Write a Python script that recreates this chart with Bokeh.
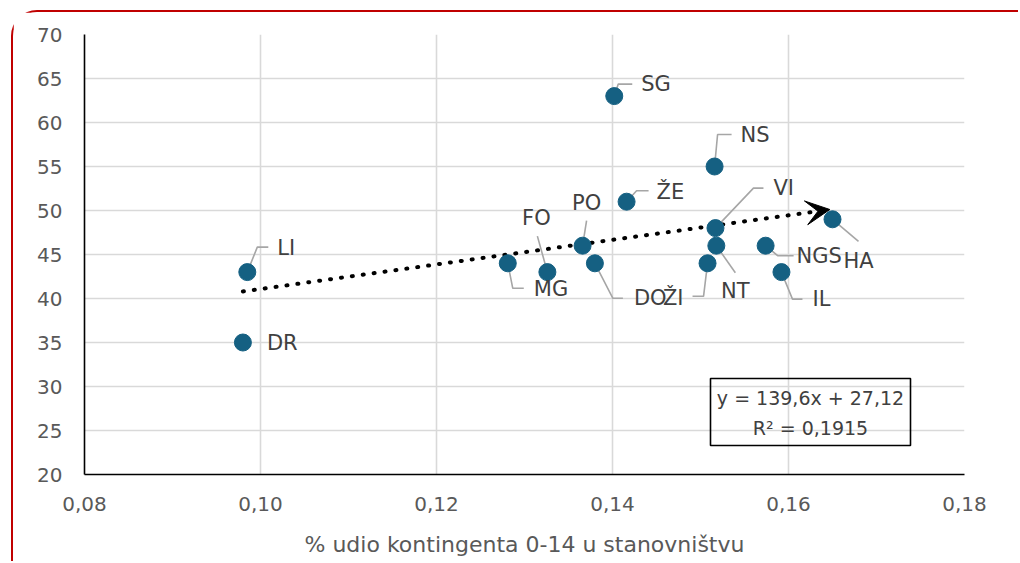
from bokeh.plotting import figure
from bokeh.models import (ColumnDataSource, FixedTicker, BoxAnnotation, Label, Arrow, VeeHead)
from bokeh.core.properties import value
from bokeh.embed import file_html
from bokeh.resources import INLINE

# ---- data ----
names = ["SG", "NS", "ŽE", "VI", "HA", "PO", "FO", "MG", "DO", "ŽI", "NT", "NGS", "IL", "LI", "DR"]
share_0_14 = [0.1402, 0.1516, 0.1416, 0.1517, 0.1650, 0.1366, 0.1326, 0.1281,
              0.1380, 0.1508, 0.1518, 0.1574, 0.1592, 0.0985, 0.0980]
y_values = [63, 55, 51, 48, 49, 46, 43, 44, 44, 44, 46, 46, 43, 43, 35]
x_ticks = [0.08, 0.10, 0.12, 0.14, 0.16, 0.18]
x_tick_labels = ["0,08", "0,10", "0,12", "0,14", "0,16", "0,18"]
y_ticks = [20, 25, 30, 35, 40, 45, 50, 55, 60, 65, 70]
slope = 139.6
intercept = 27.12
r_squared = 0.1915
x_title = "% udio kontingenta 0-14 u stanovništvu"

# ---- label placement (pixel offsets, styling only) ----
label_dx = [27, 26, 30, 58, 26, 4, -11, 26, 39, -24, 19, 31, 31, 30, 24]
label_dy = [-12, -32, -10, -40, 42, -43, -54, 26, 35, 35, 45, 10, 27, -24, 0]
label_align = ["left", "left", "left", "left", "center", "center", "center", "left",
               "left", "right", "center", "left", "left", "left", "left"]
leader_paths = [
    [(0, 0), (4, -12), (18, -12)],
    [(0, 0), (3, -32), (17, -32)],
    [(0, 0), (10, -11), (22, -11)],
    [(0, 0), (38, -40), (48, -40)],
    [(0, 0), (26, 22)],
    [(0, 0), (4, -25)],
    [(0, 0), (-10, -36)],
    [(0, 0), (5, 25), (16, 25)],
    [(0, 0), (18, 35), (28, 35)],
    [(0, 0), (-4, 33), (-15, 33)],
    [(0, 0), (19, 27)],
    [(0, 0), (12, 10), (28, 10)],
    [(0, 0), (11, 27), (21, 27)],
    [(0, 0), (10, -25), (21, -25)],
    [],
]

# canvas origin on the page (after red border + margin)
OX, OY = 13, 12
W, H = 1020 - OX, 563 - OY
FL, FR, FT, FB = 84 - OX, 1020 - 964, 34 - OY, 563 - 474
x0, x1, y0, y1 = 0.08, 0.18, 20, 70
px_per_x = (W - FL - FR) / (x1 - x0)
px_per_y = (H - FT - FB) / (y1 - y0)

FONT = "DejaVu Sans"
TICK_COL = "#595959"
LABEL_COL = "#404040"

p = figure(width=W, height=H, x_range=(x0, x1), y_range=(y0, y1),
           output_backend="svg", toolbar_location=None,
           min_border_left=FL, min_border_right=FR, min_border_top=FT, min_border_bottom=FB)
p.outline_line_color = None
p.background_fill_color = "white"
p.border_fill_color = "white"
p.styles = {
    "margin-left": "11px",
    "margin-top": "10px",
    "border-left": "2px solid #C00000",
    "border-top": "2px solid #C00000",
    "border-top-left-radius": "26px",
}

for ax in (p.xaxis[0], p.yaxis[0]):
    ax.axis_line_color = "black"
    ax.axis_line_width = 1.6
    ax.major_tick_line_color = None
    ax.minor_tick_line_color = None
    ax.major_tick_out = 0
    ax.major_tick_in = 0
    ax.minor_tick_out = 0
    ax.major_label_text_font = FONT
    ax.major_label_text_font_size = "20px"
    ax.major_label_text_color = TICK_COL

p.xaxis.ticker = FixedTicker(ticks=x_ticks)
p.yaxis.ticker = FixedTicker(ticks=y_ticks)
p.xaxis.major_label_overrides = {t: s for t, s in zip(x_ticks, x_tick_labels)}
p.xaxis.major_label_standoff = 22
p.yaxis.major_label_standoff = 22
p.xaxis.axis_label = x_title
p.xaxis.axis_label_text_font = FONT
p.xaxis.axis_label_text_font_size = "22px"
p.xaxis.axis_label_text_font_style = "normal"
p.xaxis.axis_label_text_color = TICK_COL
p.xaxis.axis_label_standoff = 18

p.xgrid.ticker = FixedTicker(ticks=x_ticks)
p.ygrid.ticker = FixedTicker(ticks=y_ticks)
for g in (p.xgrid[0], p.ygrid[0]):
    g.grid_line_color = "#d9d9d9"
    g.grid_line_width = 1.6

# leader lines
lx, ly = [], []
for xv, yv, path in zip(share_0_14, y_values, leader_paths):
    if not path:
        continue
    lx.append([xv + dx / px_per_x for dx, dy in path])
    ly.append([yv - dy / px_per_y for dx, dy in path])
p.multi_line(lx, ly, line_color="#a6a6a6", line_width=1.6)

# trend line
tx = [min(share_0_14), max(share_0_14)]
ty = [slope * v + intercept for v in tx]
tx_end = tx[1] - 0.0003
p.line([tx[0], tx_end], [ty[0], slope * tx_end + intercept], line_color="black",
       line_width=4, line_dash="1 10", line_cap="round")
back = tx_end - 0.002
p.add_layout(Arrow(end=VeeHead(size=24, fill_color="black", line_color="black"),
                   x_start=back, y_start=slope * back + intercept,
                   x_end=tx_end, y_end=slope * tx_end + intercept, line_color=None))

src = ColumnDataSource(dict(x=share_0_14, y=y_values, name=names,
                            dx=label_dx, dy=label_dy, align=label_align))
p.scatter("x", "y", source=src, size=17, fill_color="#156082", line_color="#156082")
p.text("x", "y", text="name", source=src, x_offset="dx", y_offset="dy",
       text_align="align", text_baseline="middle", text_font=value(FONT),
       text_font_size="21px", text_color=LABEL_COL)

# equation box
bx0 = x0 + (710 - OX - FL) / px_per_x
bx1 = x0 + (910 - OX - FL) / px_per_x
by_top = y1 - (378 - OY - FT) / px_per_y
by_bot = y1 - (445 - OY - FT) / px_per_y
p.add_layout(BoxAnnotation(left=bx0, right=bx1, top=by_top, bottom=by_bot,
                           fill_alpha=0, line_color="black", line_width=1.6, line_alpha=1))
eq1 = "y = {}x + {}".format(str(slope).replace(".", ","), str(intercept).replace(".", ","))
eq2 = "R² = " + str(r_squared).replace(".", ",")
cx = (bx0 + bx1) / 2
p.add_layout(Label(x=cx, y=by_top, y_offset=-19, text=eq1, text_align="center",
                   text_baseline="middle", text_font=FONT, text_font_size="19px",
                   text_color=LABEL_COL))
p.add_layout(Label(x=cx, y=by_top, y_offset=-49, text=eq2, text_align="center",
                   text_baseline="middle", text_font=FONT, text_font_size="19px",
                   text_color=LABEL_COL))

open("out.html", "w").write(file_html(p, INLINE))
